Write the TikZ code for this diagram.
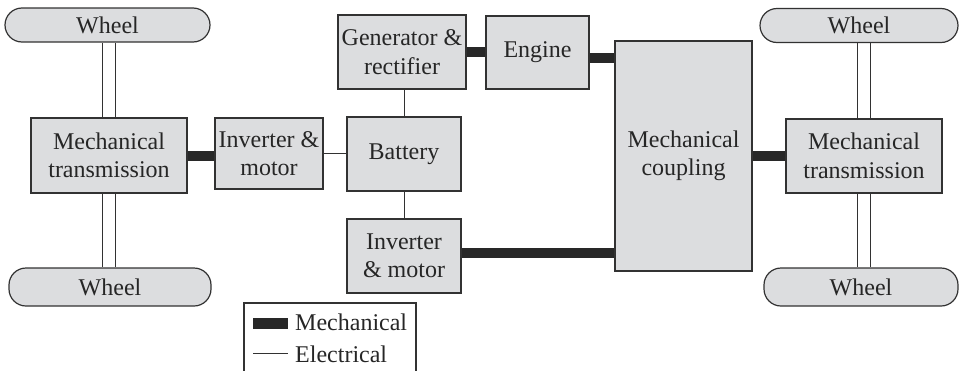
\documentclass[tikz,border=0pt]{standalone}
\usepackage{fontspec}
\setmainfont{Liberation Serif}
\definecolor{boxfill}{RGB}{220,221,223}
\definecolor{boxline}{RGB}{50,50,50}
\definecolor{barcol}{RGB}{40,40,40}
\begin{document}
\begin{tikzpicture}[x=1pt,y=-1pt,
  every node/.style={font=\fontsize{24}{28.5}\selectfont, text=black!85},
  blk/.style={draw=boxline, fill=boxfill, line width=1.2pt, align=center, inner sep=0pt},
  wheelbox/.style={blk, rounded corners=17pt},
  mech/.style={draw=barcol, line width=10pt},
  elec/.style={draw=boxline, line width=1pt},
  shaftline/.style={draw=boxline, line width=1pt}]
\useasboundingbox (0,0) rectangle (959,370);
% blocks
\node[blk, minimum width=156pt, minimum height=75pt] (lmt) at (109,155.5) {Mechanical\\transmission};
\node[blk, minimum width=108pt, minimum height=71pt] (linv) at (269,153.5) {Inverter \&\\motor};
\node[blk, minimum width=114pt, minimum height=74pt] (bat) at (404,154) {Battery};
\node[blk, minimum width=128pt, minimum height=74pt] (gen) at (402,52) {Generator \&\\rectifier};
\node[blk, minimum width=103pt, minimum height=73pt] (eng) at (537.5,52.5) {Engine};
\node[blk, minimum width=137pt, minimum height=230pt] (cpl) at (683.5,156) {Mechanical\\coupling};
\node[blk, minimum width=156pt, minimum height=74pt] (rmt) at (864,156) {Mechanical\\transmission};
\node[blk, minimum width=114pt, minimum height=74pt] (binv) at (404,256) {Inverter\\\& motor};
% wheels
\node[wheelbox, minimum width=205pt, minimum height=34pt] (tlw) at (107.5,25) {Wheel};
\node[wheelbox, minimum width=202pt, minimum height=38pt] (blw) at (110,287) {Wheel};
\node[wheelbox, minimum width=198pt, minimum height=34pt] (trw) at (859,25.5) {Wheel};
\node[wheelbox, minimum width=194pt, minimum height=38pt] (brw) at (861,287) {Wheel};
% shafts
\foreach \s in {-6.5,6.5}{
  \draw[shaftline] ([xshift=\s pt]lmt.north) -- ([xshift=\s pt]lmt.north |- tlw.south);
  \draw[shaftline] ([xshift=\s pt]lmt.south) -- ([xshift=\s pt]lmt.south |- blw.north);
  \draw[shaftline] ([xshift=\s pt]rmt.north) -- ([xshift=\s pt]rmt.north |- trw.south);
  \draw[shaftline] ([xshift=\s pt]rmt.south) -- ([xshift=\s pt]rmt.south |- brw.north);
}
% mechanical links
\draw[mech] (lmt.east) -- (lmt.east -| linv.west);
\draw[mech] (gen.east) -- (gen.east -| eng.west);
\draw[mech] ([yshift=-5pt]eng.east) -- ([yshift=-5pt]eng.east -| cpl.west);
\draw[mech] (rmt.west) -- (rmt.west -| cpl.east);
\draw[mech] ([yshift=3pt]binv.east) -- ([yshift=3pt]binv.east -| cpl.west);
% electrical links
\draw[elec] (linv.east) -- (linv.east -| bat.west);
\draw[elec] (bat.north) -- (bat.north |- gen.south);
\draw[elec] (bat.south) -- (binv.north);
% legend
\draw[draw=boxline, line width=1.2pt] (244,380) -- (244,303) -- (416,303) -- (416,380);
\coordinate (lm1) at (253,323.5);
\coordinate (lm2) at (288,323.5);
\coordinate (le1) at (253,353);
\coordinate (le2) at (288,353);
\draw[draw=barcol, line width=11pt] (lm1) -- (lm2);
\draw[elec] (le1) -- (le2);
\node[anchor=base west, inner sep=0pt] (lgm) at (295,330) {Mechanical};
\node[anchor=base west, inner sep=0pt] (lge) at (295,362) {Electrical};
\end{tikzpicture}
\end{document}
